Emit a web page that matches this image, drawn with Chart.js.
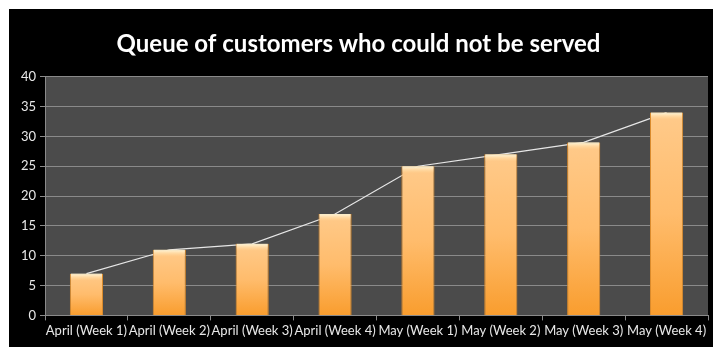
<!DOCTYPE html>
<html>
<head>
<meta charset="utf-8">
<script src="https://cdn.jsdelivr.net/npm/chart.js@4/dist/chart.umd.min.js"></script>
<style>
  html, body { margin: 0; padding: 0; background: #fff; }
  #wrap { position: absolute; left: 9px; top: 9px; width: 704px; height: 338px; background: #000; }
</style>
</head>
<body>
<div id="wrap"><canvas id="queueChart" width="704" height="338"></canvas></div>
<script>
const weeks = ['April (Week 1)', 'April (Week 2)', 'April (Week 3)', 'April (Week 4)',
               'May (Week 1)', 'May (Week 2)', 'May (Week 3)', 'May (Week 4)'];
const customers = [7, 11, 12, 17, 25, 27, 29, 34];
const yTicks = [0, 5, 10, 15, 20, 25, 30, 35, 40];

// grey plot area behind the bars
const plotBg = {
  id: 'plotBg',
  beforeDraw(chart) {
    const a = chart.chartArea, c = chart.ctx;
    c.save();
    c.fillStyle = '#4b4b4b';
    c.fillRect(a.left, a.top, a.right - a.left, a.bottom - a.top);
    c.restore();
  }
};

// light strip on top of each bar
const barShine = {
  id: 'barShine',
  afterDatasetsDraw(chart) {
    const meta = chart.getDatasetMeta(0), c = chart.ctx;
    c.save();
    meta.data.forEach(bar => {
      const w = bar.width, x = bar.x - w / 2;
      const g = c.createLinearGradient(0, bar.y, 0, bar.y + 7);
      g.addColorStop(0, 'rgba(255,250,225,0.95)');
      g.addColorStop(1, 'rgba(255,220,160,0)');
      c.fillStyle = g;
      c.fillRect(x + 1, bar.y, w - 2, 7);
    });
    c.restore();
  }
};

function barFill(ctx) {
  const chart = ctx.chart;
  if (!chart.chartArea) return '#f9a93e';
  const y = chart.scales.y;
  const top = y.getPixelForValue(ctx.raw), base = y.getPixelForValue(0);
  const g = chart.ctx.createLinearGradient(0, top, 0, base);
  g.addColorStop(0, '#ffca8a');
  g.addColorStop(0.5, '#ffbc6c');
  g.addColorStop(1, '#f99d2e');
  return g;
}

const ctx = document.getElementById('queueChart').getContext('2d');
new Chart(ctx, {
  data: {
    labels: weeks,
    datasets: [{
      type: 'bar',
      data: customers,
      backgroundColor: barFill,
      borderColor: '#d98a2c',
      borderWidth: 1,
      barPercentage: 0.8,
      categoryPercentage: 0.5,
      order: 0
    }, {
      type: 'line',
      data: customers,
      borderColor: '#e6e6e6',
      borderWidth: 1.2,
      pointRadius: 0,
      tension: 0,
      order: 1
    }]
  },
  options: {
    responsive: false,
    animation: false,
    layout: { padding: { left: 0, right: 5, top: 0, bottom: 5 } },
    plugins: {
      legend: { display: false },
      tooltip: { enabled: false },
      title: {
        display: true,
        text: 'Queue of customers who could not be served',
        color: '#ffffff',
        font: { family: 'Lato', size: 24, weight: 'bold' },
        padding: { top: 21, bottom: 18 }
      }
    },
    scales: {
      x: {
        grid: { display: true, drawOnChartArea: false, color: '#8a8a8a', tickLength: 5, offset: true },
        border: { color: '#8a8a8a' },
        ticks: { color: '#e8e8e8', font: { family: 'Lato', size: 13 }, maxRotation: 0, autoSkip: false, padding: 3 }
      },
      y: {
        min: 0, max: 40,
        afterBuildTicks(scale) { scale.ticks = yTicks.map(v => ({ value: v })); },
        afterFit(scale) { scale.width = 36; },
        grid: { color: '#8a8a8a', tickLength: 5 },
        border: { color: '#8a8a8a' },
        ticks: { color: '#e8e8e8', font: { family: 'Lato', size: 13 }, padding: 4 }
      }
    }
  },
  plugins: [plotBg, barShine]
});
</script>
</body>
</html>
